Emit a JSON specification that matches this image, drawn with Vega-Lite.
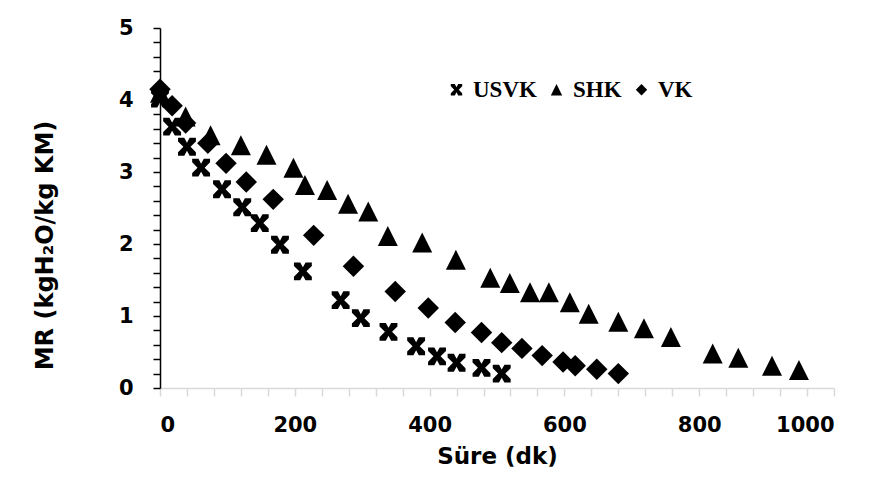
{
  "$schema": "https://vega.github.io/schema/vega-lite/v6.json",
  "width": 674,
  "height": 360,
  "autosize": {"type": "none"},
  "padding": {"left": 160, "top": 28, "right": 40, "bottom": 89},
  "background": "white",
  "config": {"view": {"stroke": null}, "font": "DejaVu Sans"},
  "data": {
    "values": [
      {"series": "USVK", "t": 0, "mr": 4.02},
      {"series": "USVK", "t": 18, "mr": 3.63},
      {"series": "USVK", "t": 40, "mr": 3.35},
      {"series": "USVK", "t": 61, "mr": 3.06},
      {"series": "USVK", "t": 92, "mr": 2.76},
      {"series": "USVK", "t": 122, "mr": 2.51},
      {"series": "USVK", "t": 148, "mr": 2.29},
      {"series": "USVK", "t": 178, "mr": 1.99},
      {"series": "USVK", "t": 212, "mr": 1.62},
      {"series": "USVK", "t": 268, "mr": 1.22},
      {"series": "USVK", "t": 298, "mr": 0.97},
      {"series": "USVK", "t": 339, "mr": 0.78},
      {"series": "USVK", "t": 380, "mr": 0.58},
      {"series": "USVK", "t": 411, "mr": 0.44},
      {"series": "USVK", "t": 440, "mr": 0.35},
      {"series": "USVK", "t": 477, "mr": 0.28},
      {"series": "USVK", "t": 507, "mr": 0.2},
      {"series": "SHK", "t": 0, "mr": 4.1},
      {"series": "SHK", "t": 38, "mr": 3.77},
      {"series": "SHK", "t": 75, "mr": 3.51},
      {"series": "SHK", "t": 120, "mr": 3.37},
      {"series": "SHK", "t": 158, "mr": 3.24},
      {"series": "SHK", "t": 198, "mr": 3.06},
      {"series": "SHK", "t": 215, "mr": 2.82},
      {"series": "SHK", "t": 248, "mr": 2.75},
      {"series": "SHK", "t": 279, "mr": 2.56},
      {"series": "SHK", "t": 309, "mr": 2.45},
      {"series": "SHK", "t": 338, "mr": 2.11},
      {"series": "SHK", "t": 389, "mr": 2.02},
      {"series": "SHK", "t": 439, "mr": 1.78},
      {"series": "SHK", "t": 490, "mr": 1.53},
      {"series": "SHK", "t": 519, "mr": 1.46},
      {"series": "SHK", "t": 549, "mr": 1.33},
      {"series": "SHK", "t": 577, "mr": 1.33},
      {"series": "SHK", "t": 608, "mr": 1.19},
      {"series": "SHK", "t": 636, "mr": 1.03},
      {"series": "SHK", "t": 680, "mr": 0.92},
      {"series": "SHK", "t": 718, "mr": 0.83},
      {"series": "SHK", "t": 758, "mr": 0.71},
      {"series": "SHK", "t": 820, "mr": 0.48},
      {"series": "SHK", "t": 858, "mr": 0.42},
      {"series": "SHK", "t": 908, "mr": 0.31},
      {"series": "SHK", "t": 948, "mr": 0.25},
      {"series": "VK", "t": 0, "mr": 4.15},
      {"series": "VK", "t": 18, "mr": 3.92},
      {"series": "VK", "t": 38, "mr": 3.68},
      {"series": "VK", "t": 71, "mr": 3.4},
      {"series": "VK", "t": 98, "mr": 3.12},
      {"series": "VK", "t": 128, "mr": 2.86},
      {"series": "VK", "t": 168, "mr": 2.62},
      {"series": "VK", "t": 228, "mr": 2.12},
      {"series": "VK", "t": 287, "mr": 1.69},
      {"series": "VK", "t": 349, "mr": 1.34},
      {"series": "VK", "t": 398, "mr": 1.11},
      {"series": "VK", "t": 438, "mr": 0.91},
      {"series": "VK", "t": 477, "mr": 0.77},
      {"series": "VK", "t": 507, "mr": 0.63},
      {"series": "VK", "t": 537, "mr": 0.55},
      {"series": "VK", "t": 567, "mr": 0.45},
      {"series": "VK", "t": 598, "mr": 0.36},
      {"series": "VK", "t": 616, "mr": 0.31},
      {"series": "VK", "t": 648, "mr": 0.26},
      {"series": "VK", "t": 680, "mr": 0.2}
    ]
  },
  "mark": {"type": "point", "filled": true, "opacity": 1, "color": "black", "strokeWidth": 0},
  "encoding": {
    "x": {
      "field": "t",
      "type": "quantitative",
      "scale": {"domain": [0, 1000], "nice": false, "zero": false},
      "axis": {
        "values": [0, 40, 80, 120, 160, 200, 240, 280, 320, 360, 400, 440, 480, 520, 560, 600, 640, 680, 720, 760, 800, 840, 880, 920, 960, 1000],
        "labelExpr": "datum.value % 200 === 0 ? format(datum.value, 'd') : ''",
        "labelOverlap": false,
        "grid": false,
        "domainColor": "#d9d9d9",
        "domainWidth": 1.5,
        "tickColor": "#d9d9d9",
        "tickWidth": 1.5,
        "tickSize": 8,
        "labelFontSize": 21,
        "labelFontWeight": "bold",
        "labelColor": "black",
        "labelPadding": 18,
        "title": "Süre (dk)",
        "titleFontSize": 23,
        "titleFontWeight": "bold",
        "titleColor": "black",
        "titleBaseline": "top",
        "titleY": 57
      }
    },
    "y": {
      "field": "mr",
      "type": "quantitative",
      "scale": {"domain": [0, 5], "nice": false},
      "axis": {
        "values": [0, 0.2, 0.4, 0.6, 0.8, 1, 1.2, 1.4, 1.6, 1.8, 2, 2.2, 2.4, 2.6, 2.8, 3, 3.2, 3.4, 3.6, 3.8, 4, 4.2, 4.4, 4.6, 4.8, 5],
        "labelExpr": "datum.value % 1 === 0 ? format(datum.value, 'd') : ''",
        "labelOverlap": false,
        "grid": false,
        "domainColor": "black",
        "domainWidth": 1.5,
        "tickColor": "black",
        "tickWidth": 1.5,
        "tickSize": 7,
        "labelFontSize": 21,
        "labelFontWeight": "bold",
        "labelColor": "black",
        "labelPadding": 20,
        "title": "MR (kgH₂O/kg KM)",
        "titleFontSize": 24,
        "titleFontWeight": "bold",
        "titleColor": "black",
        "titleBaseline": "middle",
        "titleX": -115,
        "titleY": 217
      }
    },
    "shape": {
      "field": "series",
      "type": "nominal",
      "scale": {
        "domain": ["USVK", "SHK", "VK"],
        "range": [
          "M-1,-1L-0.3,-1L0,-0.45L0.3,-1L1,-1L1,-0.6L0.4,0L1,0.6L1,1L0.3,1L0,0.45L-0.3,1L-1,1L-1,0.6L-0.4,0L-1,-0.6Z",
          "M0,-1L1,1L-1,1Z",
          "M-1,0L0,-1L1,0L0,1Z"
        ]
      },
      "legend": {
        "orient": "none",
        "legendX": 285,
        "legendY": 50,
        "direction": "horizontal",
        "title": null,
        "padding": 0,
        "labelFont": "Liberation Serif",
        "labelFontSize": 23,
        "labelFontWeight": "bold",
        "labelColor": "black",
        "symbolSize": 130,
        "symbolType": "circle",
        "symbolFillColor": "black",
        "symbolStrokeColor": "black",
        "symbolStrokeWidth": 0,
        "symbolOpacity": 1,
        "labelOffset": 5,
        "columnPadding": 8
      }
    },
    "size": {
      "condition": [
        {"test": "datum.series === 'USVK'", "value": 320},
        {"test": "datum.series === 'SHK'", "value": 400}
      ],
      "value": 460
    }
  }
}
